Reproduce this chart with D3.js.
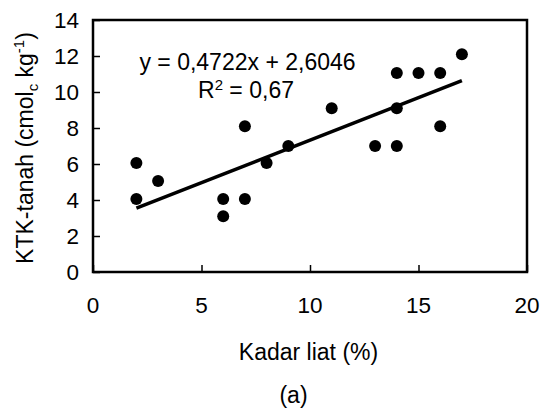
<!DOCTYPE html>
<html>
<head>
<meta charset="utf-8">
<script src="https://cdn.jsdelivr.net/npm/d3@7"></script>
<style>
  html, body { margin: 0; padding: 0; background: #fff; }
  svg { display: block; }
  text { font-family: "Liberation Sans", Arial, sans-serif; fill: #000; }
</style>
</head>
<body>
<svg id="chart" width="543" height="411"></svg>
<script>
// Data
const clayPct = [2, 2, 3, 6, 6, 7, 7, 8, 9, 11, 13, 14, 14, 14, 15, 16, 16, 17];
const ktkValues = [6.05, 4.05, 5.05, 4.05, 3.1, 8.1, 4.05, 6.05, 7.0, 9.1, 7.0, 11.05, 9.1, 7.0, 11.05, 11.05, 8.1, 12.1];
const xTicks = [0, 5, 10, 15, 20];
const yTicks = [0, 2, 4, 6, 8, 10, 12, 14];
const slope = 0.4722, intercept = 2.6046;
const fitRange = [2, 17];
const eqLabel = "y = 0,4722x + 2,6046";
const r2Value = "0,67";
const xTitle = "Kadar liat (%)";
const panelLabel = "(a)";

const svg = d3.select("#chart");
const pLeft = 93, pRight = 527, pTop = 20, pBottom = 272;

const x = d3.scaleLinear().domain([0, 20]).range([pLeft, pRight]);
const y = d3.scaleLinear().domain([0, 14]).range([pBottom, pTop]);

// Inner ticks
const xAxis = d3.axisBottom(x).tickValues(xTicks).tickSize(-7).tickFormat("");
const yAxis = d3.axisLeft(y).tickValues(yTicks).tickSize(-7).tickFormat("");
const gx = svg.append("g").attr("transform", `translate(0,${pBottom})`).call(xAxis);
const gy = svg.append("g").attr("transform", `translate(${pLeft},0)`).call(yAxis);
[gx, gy].forEach(g => {
  g.select(".domain").remove();
  g.selectAll(".tick line").attr("stroke", "#000").attr("stroke-width", 1.5);
});

// Tick labels
svg.append("g").selectAll("text").data(xTicks).join("text")
  .attr("x", d => x(d)).attr("y", 313)
  .attr("text-anchor", "middle").attr("font-size", 22.5)
  .text(d => d);
svg.append("g").selectAll("text").data(yTicks).join("text")
  .attr("x", 79).attr("y", d => y(d)).attr("dy", "0.36em")
  .attr("text-anchor", "end").attr("font-size", 22.5)
  .text(d => d);

// Frame
svg.append("rect")
  .attr("x", pLeft).attr("y", pTop)
  .attr("width", pRight - pLeft).attr("height", pBottom - pTop)
  .attr("fill", "none").attr("stroke", "#000").attr("stroke-width", 2.5);

// Trend line
svg.append("line")
  .attr("x1", x(fitRange[0])).attr("y1", y(slope * fitRange[0] + intercept))
  .attr("x2", x(fitRange[1])).attr("y2", y(slope * fitRange[1] + intercept))
  .attr("stroke", "#000").attr("stroke-width", 3.5);

// Points
svg.append("g").selectAll("circle").data(clayPct.map((c, i) => [c, ktkValues[i]])).join("circle")
  .attr("cx", d => x(d[0])).attr("cy", d => y(d[1])).attr("r", 6)
  .attr("fill", "#000");

// Equation text
svg.append("text").attr("x", 247.5).attr("y", 70)
  .attr("text-anchor", "middle").attr("font-size", 23)
  .text(eqLabel);
const r2 = svg.append("text").attr("x", 246).attr("y", 98)
  .attr("text-anchor", "middle").attr("font-size", 23);
r2.append("tspan").text("R");
r2.append("tspan").attr("font-size", 15).attr("dy", -8).text("2");
r2.append("tspan").attr("dy", 8).text(" = " + r2Value);

// X title
svg.append("text").attr("x", 308.5).attr("y", 360)
  .attr("text-anchor", "middle").attr("font-size", 23)
  .text(xTitle);

// Panel label
svg.append("text").attr("x", 293.5).attr("y", 403)
  .attr("text-anchor", "middle").attr("font-size", 23)
  .text(panelLabel);

// Y title
const yt = svg.append("text")
  .attr("transform", "translate(33,148) rotate(-90)")
  .attr("text-anchor", "middle").attr("font-size", 23);
yt.append("tspan").text("KTK-tanah (cmol");
yt.append("tspan").attr("font-size", 15).attr("dy", 5).text("c");
yt.append("tspan").attr("dy", -5).text(" kg");
yt.append("tspan").attr("font-size", 15).attr("dy", -9).text("-1");
yt.append("tspan").attr("dy", 9).text(")");
</script>
</body>
</html>
